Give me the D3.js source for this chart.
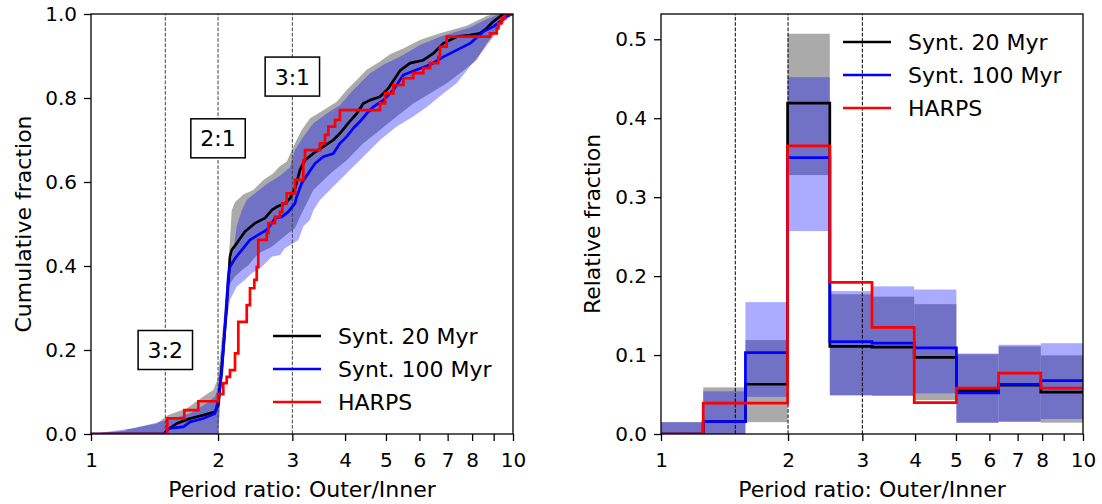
<!DOCTYPE html>
<html>
<meta charset="utf-8">
<title>Period ratio distributions</title>
<style>
body { margin: 0; background: #fff; }
svg { font-family: "DejaVu Sans", sans-serif; }
.tick text { font-size: 20px; fill: #000; }
.tick line { stroke: #000; stroke-width: 1.3px; }
.frame { fill: none; stroke: #000; stroke-width: 1.3px; }
.label { font-size: 22px; }
.legend text { font-size: 22px; }
.box text { font-size: 22px; }
</style>
<script src="https://d3js.org/d3.v7.min.js"></script>
<body>
<script>
// ---- tick labels / categories
const ticksX = [1, 2, 3, 4, 5, 6, 7, 8, 9, 10];
const tickLabelsX = ["1", "2", "3", "4", "5", "6", "7", "8", "", "10"];
const ticksYLeft = [0, 0.2, 0.4, 0.6, 0.8, 1.0];
const ticksYRight = [0, 0.1, 0.2, 0.3, 0.4, 0.5];
const resonances = [1.5, 2, 3];
const resonanceNames = ["3:2", "2:1", "3:1"];
const resonanceLabelY = [0.2, 0.704, 0.851];
const seriesNames = ["Synt. 20 Myr", "Synt. 100 Myr", "HARPS"];

// ---- left panel: cumulative fractions, [period ratio, fraction]
const cumHarps = [[1, 0], [1.516, 0.037], [1.664, 0.057], [1.796, 0.078], [2.0, 0.095], [2.058, 0.121],
  [2.097, 0.136], [2.135, 0.152], [2.194, 0.192], [2.234, 0.267], [2.339, 0.307], [2.381, 0.347],
  [2.438, 0.367], [2.47, 0.398], [2.491, 0.462], [2.609, 0.478], [2.632, 0.502], [2.729, 0.517],
  [2.805, 0.529], [2.84, 0.549], [2.909, 0.573], [3.044, 0.605], [3.185, 0.652], [3.215, 0.676],
  [3.488, 0.692], [3.585, 0.712], [3.651, 0.732], [3.787, 0.748], [3.89, 0.771], [4.84, 0.787],
  [4.975, 0.811], [5.205, 0.831], [5.5, 0.847], [5.803, 0.859], [6.13, 0.871], [6.36, 0.883],
  [6.65, 0.898], [6.715, 0.922], [6.965, 0.946], [8.82, 0.954], [9.15, 0.966], [9.23, 0.978],
  [9.40, 0.99], [9.57, 1.0], [10, 1.0]];

const cum20 = [[1, 0], [1.49, 0], [1.516, 0.0095], [1.596, 0.025], [1.717, 0.037], [1.846, 0.045],
  [1.967, 0.053], [2.003, 0.069], [2.022, 0.113], [2.058, 0.2], [2.097, 0.303], [2.135, 0.422],
  [2.155, 0.438], [2.215, 0.454], [2.317, 0.482], [2.447, 0.502], [2.584, 0.514], [2.681, 0.533],
  [2.755, 0.541], [2.882, 0.549], [2.962, 0.561], [3.044, 0.585], [3.128, 0.629], [3.215, 0.652],
  [3.364, 0.668], [3.552, 0.684], [3.752, 0.7], [3.89, 0.716], [4.071, 0.74], [4.262, 0.763],
  [4.419, 0.787], [4.583, 0.795], [4.84, 0.803], [5.065, 0.823], [5.398, 0.865], [5.7, 0.883],
  [6.13, 0.89], [6.474, 0.906], [6.836, 0.93], [7.354, 0.946], [7.908, 0.95], [8.352, 0.954],
  [8.664, 0.966], [8.98, 0.982], [9.316, 0.994], [9.485, 1.0], [10, 1.0]];

const cum100 = [[1, 0], [1.49, 0], [1.525, 0.0135], [1.655, 0.017], [1.717, 0.029], [1.846, 0.037],
  [1.967, 0.049], [2.003, 0.081], [2.04, 0.144], [2.078, 0.255], [2.115, 0.375], [2.135, 0.398],
  [2.194, 0.418], [2.276, 0.438], [2.381, 0.462], [2.491, 0.474], [2.609, 0.486], [2.681, 0.502],
  [2.729, 0.514], [2.831, 0.517], [2.934, 0.529], [3.044, 0.549], [3.072, 0.565], [3.157, 0.597],
  [3.273, 0.621], [3.395, 0.644], [3.552, 0.66], [3.752, 0.668], [3.89, 0.692], [4.036, 0.708],
  [4.184, 0.728], [4.339, 0.744], [4.501, 0.763], [4.667, 0.779], [4.929, 0.795], [5.205, 0.819],
  [5.495, 0.855], [5.912, 0.867], [6.358, 0.879], [6.836, 0.898], [7.354, 0.914], [7.908, 0.93],
  [8.504, 0.958], [8.98, 0.97], [9.316, 0.982], [9.663, 0.994], [9.929, 1.0], [10, 1.0]];

// spread envelopes of the synthetic samples
const cum20Hi = [[1, 0], [1.204, 0.008], [1.215, 0.011], [1.431, 0.025], [1.525, 0.045], [1.686, 0.061],
  [1.846, 0.089], [1.949, 0.105], [1.986, 0.125], [2.003, 0.144], [2.058, 0.264], [2.097, 0.359],
  [2.135, 0.462], [2.155, 0.533], [2.194, 0.552], [2.296, 0.57], [2.424, 0.581], [2.561, 0.605],
  [2.704, 0.621], [2.805, 0.638], [2.909, 0.648], [3.044, 0.692], [3.157, 0.724], [3.304, 0.752],
  [3.552, 0.771], [3.822, 0.791], [4.036, 0.819], [4.262, 0.843], [4.501, 0.867], [4.84, 0.887],
  [5.112, 0.904], [5.495, 0.918], [6.02, 0.938], [6.714, 0.954], [7.767, 0.972], [8.664, 0.995],
  [9.0, 1.0], [10, 1.0]];
const cum20Lo = [[1, 0], [2.003, 0], [2.04, 0.13], [2.078, 0.28], [2.115, 0.351], [2.194, 0.375],
  [2.276, 0.39], [2.36, 0.402], [2.491, 0.43], [2.681, 0.446], [2.805, 0.462], [2.934, 0.478],
  [3.044, 0.49], [3.128, 0.517], [3.215, 0.541], [3.364, 0.581], [3.7, 0.621], [4.036, 0.652],
  [4.419, 0.692], [4.84, 0.724], [5.302, 0.756], [5.803, 0.787], [6.358, 0.811], [6.965, 0.835],
  [7.488, 0.859], [8.2, 0.89], [8.664, 0.93], [9.15, 0.962], [9.663, 0.994], [10, 1.0]];
const cum100Hi = [[1, 0], [1.259, 0.0135], [1.511, 0.033], [1.717, 0.049], [1.881, 0.073], [1.967, 0.089],
  [2.003, 0.11], [2.058, 0.25], [2.097, 0.33], [2.135, 0.4], [2.174, 0.438], [2.215, 0.494],
  [2.276, 0.533], [2.339, 0.557], [2.447, 0.573], [2.609, 0.595], [2.805, 0.615], [2.962, 0.635],
  [3.044, 0.676], [3.185, 0.708], [3.364, 0.74], [3.619, 0.763], [3.89, 0.783], [4.109, 0.811],
  [4.339, 0.835], [4.583, 0.859], [4.929, 0.879], [5.398, 0.898], [6.02, 0.926], [6.714, 0.946],
  [7.908, 0.968], [8.664, 0.988], [9.3, 1.0], [10, 1.0]];
const cum100Lo = [[1, 0], [2.003, 0], [2.022, 0.105], [2.078, 0.248], [2.135, 0.319], [2.215, 0.351],
  [2.317, 0.367], [2.403, 0.383], [2.515, 0.394], [2.681, 0.422], [2.805, 0.426], [2.882, 0.442],
  [3.015, 0.454], [3.099, 0.462], [3.185, 0.494], [3.304, 0.51], [3.364, 0.533], [3.488, 0.557],
  [3.752, 0.589], [4.036, 0.621], [4.419, 0.66], [4.84, 0.7], [5.302, 0.732], [5.803, 0.756],
  [6.26, 0.779], [6.836, 0.811], [7.354, 0.835], [7.908, 0.875], [8.504, 0.914], [8.98, 0.946],
  [9.485, 0.978], [9.838, 0.994], [10, 1.0]];

// ---- right panel: histogram bins (log spaced) and relative fractions
const binEdges = [1, 1.259, 1.585, 1.995, 2.512, 3.162, 3.981, 5.012, 6.31, 7.943, 10];
const rel20 = [0, 0.0156, 0.063, 0.419, 0.111, 0.110, 0.097, 0.055, 0.062, 0.053];
const rel100 = [0, 0.0156, 0.103, 0.35, 0.117, 0.115, 0.109, 0.052, 0.063, 0.0675];
const relHarps = [0, 0.039, 0.039, 0.365, 0.192, 0.135, 0.0397, 0.058, 0.077, 0.058];
const rel20Lo = [0, 0, 0.015, 0.328, 0.049, 0.0485, 0.043, 0.0143, 0.0156, 0.0143];
const rel20Hi = [0.015, 0.059, 0.119, 0.507, 0.177, 0.174, 0.1645, 0.101, 0.111, 0.0996];
const rel100Lo = [0, 0, 0.047, 0.257, 0.049, 0.0485, 0.0515, 0.0143, 0.0156, 0.019];
const rel100Hi = [0.015, 0.054, 0.167, 0.452, 0.181, 0.187, 0.183, 0.102, 0.113, 0.115];

const colors = ["#000000", "#0000ff", "#ff0000"];

const svg = d3.select("body").append("svg")
    .attr("width", 1102)
    .attr("height", 504);

const xL = d3.scaleLog().domain([1, 10]).range([91, 513]);
const yL = d3.scaleLinear().domain([0, 1]).range([434, 14]);
const xR = d3.scaleLog().domain([1, 10]).range([661, 1083]);
const yR = d3.scaleLinear().domain([0, 0.532]).range([434, 14]);

function setup(x, y, id) {
  svg.append("defs").append("clipPath").attr("id", id)
    .append("rect")
      .attr("x", x.range()[0]).attr("y", y.range()[1])
      .attr("width", x.range()[1] - x.range()[0])
      .attr("height", y.range()[0] - y.range()[1]);
  return svg.append("g").attr("clip-path", `url(#${id})`);
}

function axes(x, y, yTicks, ylabel, ylabelX) {
  svg.append("g")
      .attr("transform", `translate(0,${y.range()[0]})`)
      .call(d3.axisBottom(x).tickValues(ticksX)
        .tickFormat((d, i) => tickLabelsX[i]).tickSize(7).tickPadding(12))
      .call(g => g.attr("font-size", null).attr("font-family", null))
      .call(g => g.select(".domain").remove());
  svg.append("g")
      .attr("transform", `translate(${x.range()[0]},0)`)
      .call(d3.axisLeft(y).tickValues(yTicks).tickFormat(d3.format(".1f")).tickSize(7).tickPadding(7))
      .call(g => g.attr("font-size", null).attr("font-family", null))
      .call(g => g.select(".domain").remove());
  svg.append("rect").attr("class", "frame")
      .attr("x", x.range()[0]).attr("y", y.range()[1])
      .attr("width", x.range()[1] - x.range()[0])
      .attr("height", y.range()[0] - y.range()[1]);
  svg.append("text").attr("class", "label")
      .attr("x", (x.range()[0] + x.range()[1]) / 2).attr("y", 497)
      .attr("text-anchor", "middle")
      .text("Period ratio: Outer/Inner");
  svg.append("text").attr("class", "label")
      .attr("transform", `translate(${ylabelX},${(y.range()[0] + y.range()[1]) / 2}) rotate(-90)`)
      .attr("text-anchor", "middle")
      .text(ylabel);
}

function legend(x0, y0, dy) {
  const lg = svg.append("g").attr("class", "legend");
  seriesNames.forEach((name, i) => {
    lg.append("line")
        .attr("x1", x0).attr("x2", x0 + 48)
        .attr("y1", y0 + i * dy).attr("y2", y0 + i * dy)
        .attr("stroke", colors[i]).attr("stroke-width", 2.7);
    lg.append("text")
        .attr("x", x0 + 65).attr("y", y0 + i * dy + 8)
        .text(name);
  });
}

// ---------- left panel
const gL = setup(xL, yL, "clipL");
const poly = (x, y) => d3.line().x(d => x(d[0])).y(d => y(d[1]));
const band = (hi, lo) => poly(xL, yL)(hi.concat(lo.slice().reverse())) + "Z";

gL.append("path").attr("d", band(cum20Hi, cum20Lo)).attr("fill", "#aaaaaa");
gL.append("path").attr("d", band(cum100Hi, cum100Lo)).attr("fill", "#0000ff").attr("fill-opacity", 0.333);

resonances.forEach(r => {
  gL.append("line")
      .attr("x1", xL(r)).attr("x2", xL(r))
      .attr("y1", yL(0)).attr("y2", yL(1))
      .attr("stroke", "#444").attr("stroke-width", 1)
      .attr("stroke-dasharray", "3.7,1.6");
});

[cum20, cum100].forEach((s, i) => {
  gL.append("path").attr("d", poly(xL, yL)(s))
      .attr("fill", "none").attr("stroke", colors[i])
      .attr("stroke-width", 2.7).attr("stroke-linejoin", "round");
});
gL.append("path")
    .attr("d", poly(xL, yL).curve(d3.curveStepAfter)(cumHarps))
    .attr("fill", "none").attr("stroke", colors[2])
    .attr("stroke-width", 2.7);

resonances.forEach((r, i) => {
  const b = svg.append("g").attr("class", "box");
  const t = b.append("text")
      .attr("x", xL(r)).attr("y", yL(resonanceLabelY[i]) + 8)
      .attr("text-anchor", "middle")
      .text(resonanceNames[i]);
  const w = t.node().getComputedTextLength() + 19;
  b.insert("rect", "text")
      .attr("x", xL(r) - w / 2).attr("y", yL(resonanceLabelY[i]) - 19.5)
      .attr("width", w).attr("height", 39)
      .attr("fill", "#fff").attr("stroke", "#000").attr("stroke-width", 1.5);
});

axes(xL, yL, ticksYLeft, "Cumulative fraction", 31);
legend(273, 336, 33);

// ---------- right panel
const gR = setup(xR, yR, "clipR");
const bins = d3.range(rel20.length);
gR.selectAll("rect.g20").data(bins).join("rect")
    .attr("x", i => xR(binEdges[i]))
    .attr("width", i => xR(binEdges[i + 1]) - xR(binEdges[i]))
    .attr("y", i => yR(rel20Hi[i]))
    .attr("height", i => yR(rel20Lo[i]) - yR(rel20Hi[i]))
    .attr("fill", "#aaaaaa");
gR.selectAll("rect.g100").data(bins).join("rect")
    .attr("x", i => xR(binEdges[i]))
    .attr("width", i => xR(binEdges[i + 1]) - xR(binEdges[i]))
    .attr("y", i => yR(rel100Hi[i]))
    .attr("height", i => yR(rel100Lo[i]) - yR(rel100Hi[i]))
    .attr("fill", "#0000ff").attr("fill-opacity", 0.333);

resonances.forEach(r => {
  gR.append("line")
      .attr("x1", xR(r)).attr("x2", xR(r))
      .attr("y1", yR(0)).attr("y2", yR.range()[1])
      .attr("stroke", "#000").attr("stroke-width", 1)
      .attr("stroke-dasharray", "3.7,1.6");
});

[rel20, rel100, relHarps].forEach((vals, k) => {
  const pts = [[binEdges[0], 0]].concat(vals.map((v, i) => [binEdges[i], v]), [[binEdges[vals.length], vals[vals.length - 1]]]);
  gR.append("path")
      .attr("d", poly(xR, yR).curve(d3.curveStepAfter)(pts))
      .attr("fill", "none").attr("stroke", colors[k])
      .attr("stroke-width", 2.7);
});

axes(xR, yR, ticksYRight, "Relative fraction", 600);
legend(843, 42, 33);
</script>
</body>
</html>
